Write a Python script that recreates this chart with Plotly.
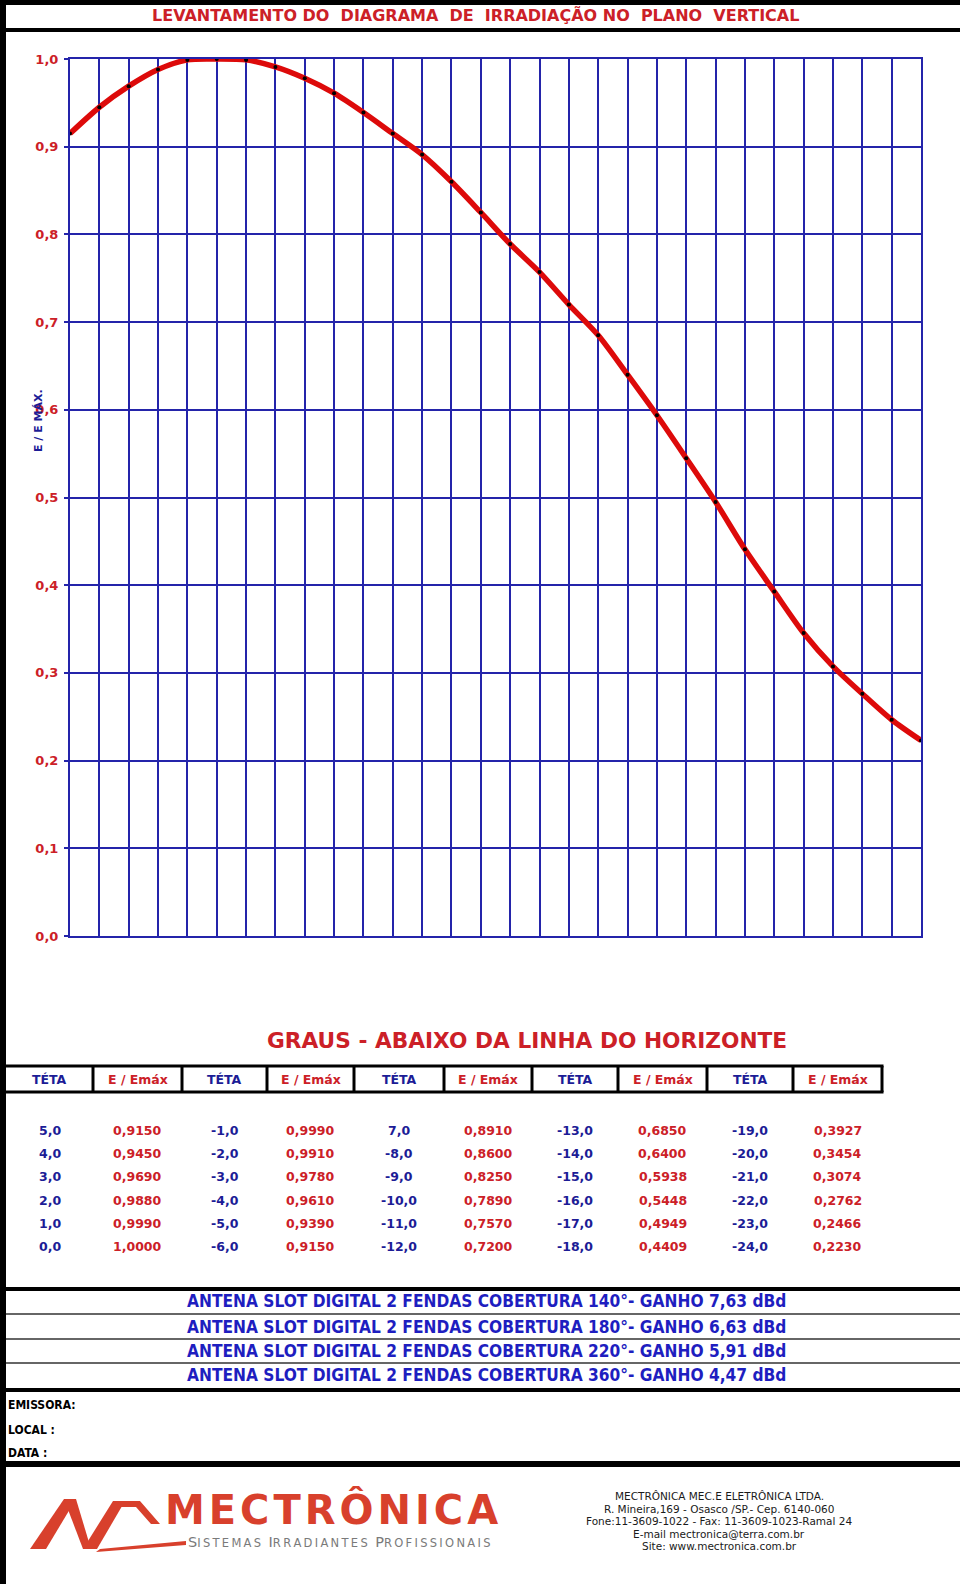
import plotly.graph_objects as go

# ---------------- data ----------------
THETA = [5, 4, 3, 2, 1, 0, -1, -2, -3, -4, -5, -6, -7, -8, -9, -10, -11, -12,
         -13, -14, -15, -16, -17, -18, -19, -20, -21, -22, -23, -24]
E_REL = [0.9150, 0.9450, 0.9690, 0.9880, 0.9990, 1.0000, 0.9990, 0.9910, 0.9780,
         0.9610, 0.9390, 0.9150, 0.8910, 0.8600, 0.8250, 0.7890, 0.7570, 0.7200,
         0.6850, 0.6400, 0.5938, 0.5448, 0.4949, 0.4409, 0.3927, 0.3454, 0.3074,
         0.2762, 0.2466, 0.2230]
# theta labels exactly as printed in the table
THETA_TEXT = ["5,0", "4,0", "3,0", "2,0", "1,0", "0,0",
              "-1,0", "-2,0", "-3,0", "-4,0", "-5,0", "-6,0",
              "7,0", "-8,0", "-9,0", "-10,0", "-11,0", "-12,0",
              "-13,0", "-14,0", "-15,0", "-16,0", "-17,0", "-18,0",
              "-19,0", "-20,0", "-21,0", "-22,0", "-23,0", "-24,0"]
Y_TICKS = [0.0, 0.1, 0.2, 0.3, 0.4, 0.5, 0.6, 0.7, 0.8, 0.9, 1.0]
Y_TICK_TEXT = ["0,0", "0,1", "0,2", "0,3", "0,4", "0,5", "0,6", "0,7", "0,8", "0,9", "1,0"]
ANTENNAS = [
    "ANTENA SLOT DIGITAL 2 FENDAS COBERTURA 140°- GANHO 7,63 dBd",
    "ANTENA SLOT DIGITAL 2 FENDAS COBERTURA 180°- GANHO 6,63 dBd",
    "ANTENA SLOT DIGITAL 2 FENDAS COBERTURA 220°- GANHO 5,91 dBd",
    "ANTENA SLOT DIGITAL 2 FENDAS COBERTURA 360°- GANHO 4,47 dBd",
]
CONTACT = [
    "MECTRÔNICA MEC.E ELETRÔNICA LTDA.",
    "R. Mineira,169 - Osasco /SP.- Cep. 6140-060",
    "Fone:11-3609-1022 - Fax: 11-3609-1023-Ramal 24",
    "E-mail mectronica@terra.com.br",
    "Site: www.mectronica.com.br",
]

W, H = 960, 1584
RED = "#cc2027"
BLUE = "#1c1c96"
GRID = "#2424aa"
F = "DejaVu Sans, Verdana, sans-serif"
FC = "DejaVu Sans Condensed, Liberation Sans Narrow, Arial Narrow, sans-serif"

def px(x):
    return x / W

def py(y):
    return 1 - y / H

annotations = []
shapes = []

def ann(x, y, text, size, color, family=F, bold=True, xanchor="center"):
    annotations.append(dict(
        x=px(x), y=py(y), xref="paper", yref="paper", text=text, showarrow=False,
        xanchor=xanchor, yanchor="middle",
        font=dict(size=size, color=color, family=family, weight="bold" if bold else "normal")))

def hline(x0, x1, y, w, color="black"):
    shapes.append(dict(type="line", xref="paper", yref="paper", x0=px(x0), x1=px(x1),
                       y0=py(y), y1=py(y), line=dict(color=color, width=w)))

def vline(x, y0, y1, w, color="black"):
    shapes.append(dict(type="line", xref="paper", yref="paper", x0=px(x), x1=px(x),
                       y0=py(y0), y1=py(y1), line=dict(color=color, width=w)))

def path(pts, fill):
    d = "M " + " L ".join(f"{px(a):.5f},{py(b):.5f}" for a, b in pts) + " Z"
    shapes.append(dict(type="path", xref="paper", yref="paper", path=d,
                       fillcolor=fill, line=dict(width=0)))

def spaced(s, sep):
    return sep.join(s)

# ---------------- chart ----------------
PL, PR, PT, PB = 70, 921, 59, 936

fig = go.Figure()
fig.add_trace(go.Scatter(
    x=THETA, y=E_REL, mode="lines+markers",
    line=dict(color="#dd0a0a", width=5.5, shape="spline", smoothing=0.8),
    marker=dict(color="black", size=4),
    hoverinfo="skip", showlegend=False))

# ---------------- frame lines ----------------
hline(0, W, 2.5, 5)            # top border
vline(3, 0, H, 6)              # left border
hline(6, W, 30, 4)             # under title

# title
ann(475, 16, "LEVANTAMENTO DO\u00a0 DIAGRAMA\u00a0 DE\u00a0 IRRADIAÇÃO NO\u00a0 PLANO\u00a0 VERTICAL", 16, RED)

# y-axis title
annotations.append(dict(x=px(38), y=py(421), xref="paper", yref="paper", text="E / E MÁX.",
                        showarrow=False, textangle=-90, xanchor="center", yanchor="middle",
                        font=dict(size=11, color=BLUE, family=F, weight="bold")))

# ---------------- table ----------------
ann(527, 1040, "GRAUS - ABAIXO DA LINHA DO HORIZONTE", 21.7, RED)

DIVS = [6, 93, 182, 267, 354, 444, 532, 618, 707, 793, 882]
HT, HB = 1066, 1092
hline(6, DIVS[-1] + 1.5, HT, 3)
hline(6, DIVS[-1] + 1.5, HB, 3)
for d in DIVS[1:]:
    vline(d, HT, HB, 3)
for c in range(10):
    cx = (DIVS[c] + DIVS[c + 1]) / 2
    if c % 2 == 0:
        ann(cx, 1079, "TÉTA", 12.5, BLUE)
    else:
        ann(cx, 1079, "E / Emáx", 12.5, RED)

ROW_Y = [1130, 1153, 1176, 1200, 1223, 1246]
for i, (tt, v) in enumerate(zip(THETA_TEXT, E_REL)):
    g, r = divmod(i, 6)
    cx_t = (DIVS[2 * g] + DIVS[2 * g + 1]) / 2
    cx_v = (DIVS[2 * g + 1] + DIVS[2 * g + 2]) / 2
    ann(cx_t, ROW_Y[r], tt, 12.5, BLUE)
    ann(cx_v, ROW_Y[r], f"{v:.4f}".replace(".", ","), 12.5, RED)

# ---------------- antenna lines ----------------
hline(6, W, 1289, 4)
ANT_Y = [1301, 1327, 1351, 1375]
for yy in (1314, 1339, 1363):
    hline(6, W, yy, 1.5, "#333333")
hline(6, W, 1390, 4)
for yy, t in zip(ANT_Y, ANTENNAS):
    ann(486, yy, t, 17.2, "#1e1ec0", family=FC)

ann(6, 1405, "EMISSORA:", 12, "black", family=FC, xanchor="left")
ann(6, 1430, "LOCAL :", 12, "black", family=FC, xanchor="left")
ann(6, 1453, "DATA :", 12, "black", family=FC, xanchor="left")

hline(6, W, 1464, 6)

# ---------------- logo ----------------
LOGO_RED = "#d8402c"
path([(30, 1549), (46, 1549), (76, 1499), (64, 1499)], LOGO_RED)          # first stroke
path([(64, 1499), (76, 1499), (91, 1549), (83, 1549)], LOGO_RED)          # down stroke
path([(83, 1549), (97, 1549), (125, 1501), (113, 1501)], LOGO_RED)        # second stroke
path([(113, 1501), (140, 1501), (160, 1524), (151, 1524), (136, 1507), (119, 1507)], LOGO_RED)  # roof
path([(100, 1549), (186, 1541), (186, 1545), (96, 1552)], LOGO_RED)       # base wedge

ann(331, 1509, spaced("MECTRÔNICA", "\u200a"), 40, LOGO_RED)
small = "font-size:11.5px"
ann(339, 1542,
    "S<span style='" + small + "'>" + spaced("ISTEMAS", "\u2009") + "</span>\u2009 "
    "I<span style='" + small + "'>" + spaced("RRADIANTES", "\u2009") + "</span>\u2009 "
    "P<span style='" + small + "'>" + spaced("ROFISSIONAIS", "\u2009") + "</span>",
    14.5, "#7a7a7a", bold=False)

for i, t in enumerate(CONTACT):
    ann(719, 1496 + i * 12.5, t, 10.5, "#1a1a1a", bold=False)

# ---------------- layout ----------------
fig.update_layout(
    width=W, height=H, margin=dict(l=0, r=0, t=0, b=0),
    paper_bgcolor="white", plot_bgcolor="white",
    annotations=annotations, shapes=shapes,
    xaxis=dict(domain=[px(PL), px(PR)], range=[5, -24], autorange=False,
               tickmode="array", tickvals=THETA, showticklabels=False, ticks="",
               showgrid=True, gridcolor=GRID, gridwidth=1.5,
               showline=True, mirror=True, linecolor=GRID, linewidth=2,
               zeroline=False, automargin=False, fixedrange=True),
    yaxis=dict(domain=[py(PB), py(PT)], range=[0, 1], autorange=False,
               tickmode="array", tickvals=Y_TICKS, ticktext=Y_TICK_TEXT,
               tickfont=dict(size=13, color=RED, family=F, weight="bold"),
               ticks="outside", ticklen=4, tickcolor=GRID, tickwidth=1.5,
               ticklabelstandoff=3,
               showgrid=True, gridcolor=GRID, gridwidth=1.5,
               showline=True, mirror=True, linecolor=GRID, linewidth=2,
               zeroline=False, automargin=False, fixedrange=True),
)

fig.write_html("out.html", config={"displayModeBar": False},
               post_script="document.body.style.margin='0';document.body.style.overflow='hidden';")
